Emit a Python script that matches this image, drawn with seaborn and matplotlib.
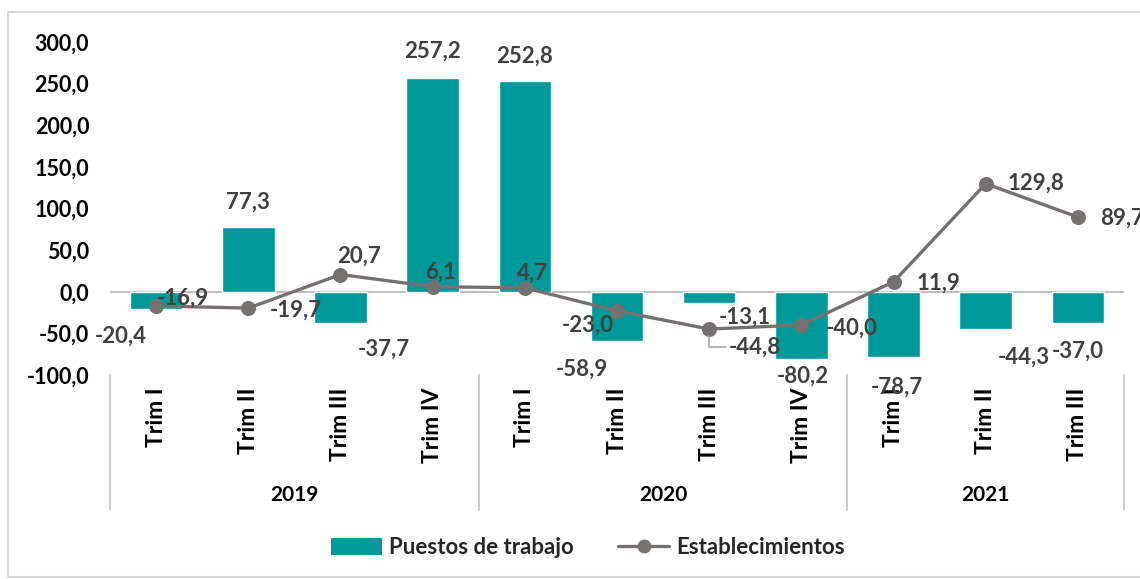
import matplotlib
matplotlib.use("Agg")
import matplotlib.pyplot as plt
import seaborn as sns
import pandas as pd
from matplotlib.patches import Rectangle
from matplotlib.lines import Line2D
import matplotlib.transforms as mtransforms

# ---------------- data ----------------
years = ["2019", "2019", "2019", "2019", "2020", "2020", "2020", "2020", "2021", "2021", "2021"]
trims = ["Trim I", "Trim II", "Trim III", "Trim IV", "Trim I", "Trim II", "Trim III", "Trim IV",
         "Trim I", "Trim II", "Trim III"]
puestos = [-20.4, 77.3, -37.7, 257.2, 252.8, -58.9, -13.1, -80.2, -78.7, -44.3, -37.0]
establecimientos = [-16.9, -19.7, 20.7, 6.1, 4.7, -23.0, -44.8, -40.0, 11.9, 129.8, 89.7]
year_labels = ["2019", "2020", "2021"]
y_ticks = [-100, -50, 0, 50, 100, 150, 200, 250, 300]

# label offsets (pixels: dx right, dy down) relative to bar end / point
bar_dx = [-35, 0, 43, 0, 0, -35, 36, 1, 3, 38, 0]
bar_dy = [27, -25, 26, -26, -25, 28, 15, 18, 30, 29, 29]
pt_dx = [27, 48, 19, 8, 8, -29, 46, 50, 45, 50, 22]
pt_dy = [-8, 2, -18, -14, -15, 14, 18, 3, 1, 0, 1]

TEAL = "#009999"
GREY = "#767171"
LBL = "#404040"

cats = [f"{y} {t}" for y, t in zip(years, trims)]
df = pd.DataFrame({"cat": cats, "puestos": puestos, "estab": establecimientos})

sns.set_theme(style="white")
plt.rcParams["font.family"] = ["Lato", "DejaVu Sans"]
plt.rcParams["font.weight"] = "bold"

W, H = 1140, 579
fig = plt.figure(figsize=(W / 100, H / 100), dpi=100)
ax = fig.add_axes([110 / W, 1 - 375 / H, (1124 - 110) / W, (375 - 42) / H])

sns.barplot(data=df, x="cat", y="puestos", order=cats, color=TEAL, saturation=1,
            width=0.57, ax=ax, zorder=2)
sns.pointplot(data=df, x="cat", y="estab", order=cats, color=GREY, markers="o",
              markersize=9, linewidth=2.4, ax=ax, zorder=4)

ax.set_xlim(-0.5, len(cats) - 0.5)
ax.set_ylim(-100, 300)
ax.axhline(0, color="#bfbfbf", lw=1.5, zorder=1)
for s in ax.spines.values():
    s.set_visible(False)
ax.set_xlabel("")
ax.set_ylabel("")
ax.set_yticks(y_ticks)
ax.set_yticklabels([f"{v:.1f}".replace(".", ",") for v in y_ticks],
                   fontsize=15.5, fontweight="bold", color="black")
ax.set_xticks(range(len(cats)))
ax.set_xticklabels(trims, rotation=90, fontsize=16.5, fontweight="bold", color="black",
                   va="top", ha="center")
ax.tick_params(axis="y", length=0, pad=15)
ax.tick_params(axis="x", length=0, pad=9)
ax.grid(False)

fmt = lambda v: f"{v:.1f}".replace(".", ",")
k = 0.72
for i, v in enumerate(puestos):
    ax.annotate(fmt(v), xy=(i, v), xytext=(bar_dx[i] * k, -bar_dy[i] * k),
                textcoords="offset points", ha="center", va="center",
                fontsize=16, fontweight="bold", color=LBL, zorder=6,
                annotation_clip=False)
for i, v in enumerate(establecimientos):
    ha = "left" if i == len(establecimientos) - 1 else "center"
    kw = {}
    if i == 6:
        kw["arrowprops"] = dict(arrowstyle="-", color="#a6a6a6", lw=1.2,
                                connectionstyle="angle,angleA=0,angleB=90,rad=0",
                                shrinkA=26, shrinkB=5)
    ax.annotate(fmt(v), xy=(i, v), xytext=(pt_dx[i] * k, -pt_dy[i] * k),
                textcoords="offset points", ha=ha, va="center",
                fontsize=16, fontweight="bold", color=LBL, zorder=6,
                annotation_clip=False, **kw)

# group separators and year labels
trans = mtransforms.blended_transform_factory(ax.transData, ax.transAxes)
ax_h = 375 - 42
y_line_bot = (375 - 510) / ax_h
y_year = (375 - 495) / ax_h
bounds = [-0.5]
for i in range(1, len(years)):
    if years[i] != years[i - 1]:
        bounds.append(i - 0.5)
bounds.append(len(years) - 0.5)
for b in bounds:
    ax.plot([b, b], [0, y_line_bot], transform=trans, color="#c8c8c8", lw=1.3,
            clip_on=False)
for j, yl in enumerate(year_labels):
    ax.text((bounds[j] + bounds[j + 1]) / 2, y_year, yl, transform=trans,
            ha="center", va="center", fontsize=15, fontweight="bold", color="black")

# legend
handles = [Rectangle((0, 0), 1, 1, facecolor=TEAL, edgecolor="none"),
           Line2D([0], [0], color=GREY, lw=2.4, marker="o", markersize=9)]
fig.legend(handles, ["Puestos de trabajo", "Establecimientos"], loc="center",
           bbox_to_anchor=(588 / W, 1 - 548 / H), ncol=2, frameon=False,
           prop={"size": 16, "weight": "bold"}, handlelength=2.3, handleheight=0.8,
           columnspacing=2.0, handletextpad=0.3)

# outer chart border
fig.patches.append(Rectangle((8 / W, 2 / H), 1.2, (H - 14) / H, transform=fig.transFigure,
                             fill=False, edgecolor="#d9d9d9", lw=1.5))

fig.savefig("out.png", dpi=100)
